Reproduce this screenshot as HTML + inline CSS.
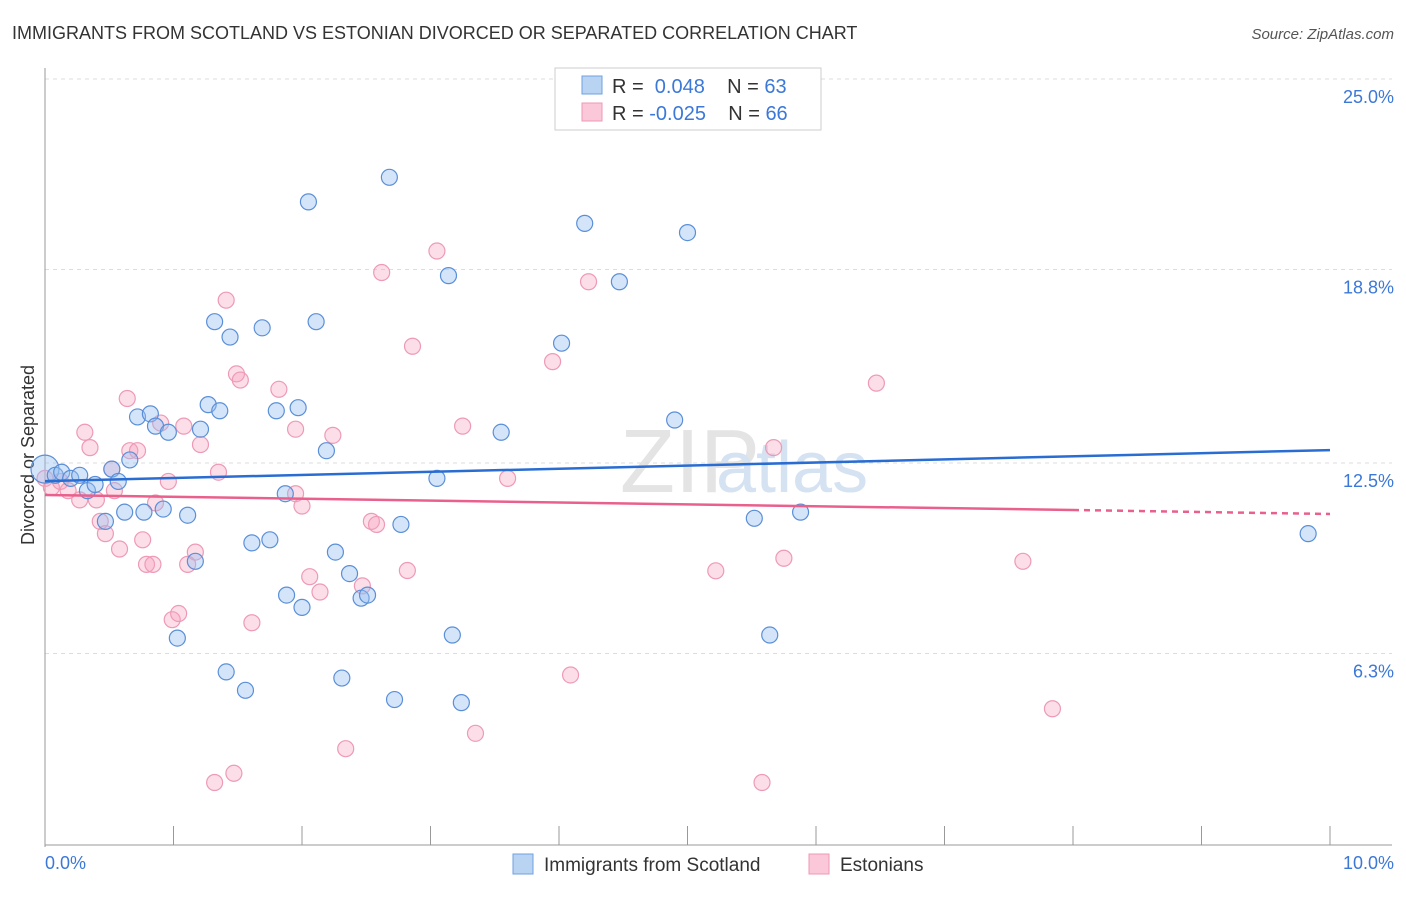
<!DOCTYPE html>
<html><head><meta charset="utf-8"><style>
body{margin:0;background:#fff;font-family:"Liberation Sans",sans-serif}
svg text{font-family:"Liberation Sans",sans-serif}
</style></head><body>
<svg id="c" width="1406" height="892" viewBox="0 0 1406 892">
<text x="12" y="39" font-size="18" fill="#333">IMMIGRANTS FROM SCOTLAND VS ESTONIAN DIVORCED OR SEPARATED CORRELATION CHART</text>
<text x="1394" y="39" font-size="15" fill="#555" text-anchor="end" font-style="italic">Source: ZipAtlas.com</text>
<text x="620" y="492" font-size="90" fill="#e4e4e4" font-family="Liberation Serif">ZIP</text>
<text x="716" y="492" font-size="72" fill="#d5e2f2">atlas</text>
<g id="grid"></g>
<line x1="45" y1="68" x2="45" y2="847" stroke="#999"/>
<line x1="45" y1="845" x2="1392" y2="845" stroke="#999"/>
<text transform="translate(34,455) rotate(-90)" font-size="18" fill="#333" text-anchor="middle">Divorced or Separated</text>
<text x="45" y="869" font-size="18" fill="#3b78d8">0.0%</text>
<text x="1394" y="869" font-size="18" fill="#3b78d8" text-anchor="end">10.0%</text>
<g id="pts"></g>
<g id="lines"></g>
<g>
<rect x="555" y="68" width="266" height="62" fill="#fff" stroke="#ccc"/>
<rect x="582" y="76" width="20" height="18" fill="#b9d3f3" stroke="#6fa0e0"/>
<rect x="582" y="103" width="20" height="18" fill="#fac8d8" stroke="#ee9ab5"/>
<text x="612" y="93" font-size="20" fill="#333">R = <tspan fill="#3b78d8">&#160;0.048</tspan>&#160;&#160;&#160; N = <tspan fill="#3b78d8">63</tspan></text>
<text x="612" y="120" font-size="20" fill="#333">R = <tspan fill="#3b78d8">-0.025</tspan>&#160;&#160;&#160; N = <tspan fill="#3b78d8">66</tspan></text>
</g>
<g>
<rect x="513" y="854" width="20" height="20" fill="#b9d3f3" stroke="#6fa0e0"/>
<text x="544" y="871" font-size="19" fill="#333">Immigrants from Scotland</text>
<rect x="809" y="854" width="20" height="20" fill="#fac8d8" stroke="#ee9ab5"/>
<text x="840" y="871" font-size="19" fill="#333">Estonians</text>
</g>
</svg>
<script>
const yTicks=[6.3,12.5,18.8,25.0];
const yTickLabels=["6.3%","12.5%","18.8%","25.0%"];
const blueX=[0,0.08,0.13,0.2,0.27,0.33,0.39,0.47,0.52,0.57,0.62,0.66,0.72,0.77,0.82,0.86,0.92,0.96,1.03,1.11,1.17,1.21,1.27,1.32,1.36,1.41,1.44,1.56,1.61,1.69,1.75,1.8,1.87,1.88,1.97,2.0,2.05,2.11,2.19,2.26,2.31,2.37,2.46,2.51,2.68,2.72,2.77,3.05,3.14,3.17,3.24,3.55,4.02,4.2,4.47,4.9,5.0,5.52,5.64,5.88,9.83];
const blueY=[12.3,12.1,12.2,12.0,12.1,11.6,11.8,10.6,12.3,11.9,10.9,12.6,14.0,10.9,14.1,13.7,11.0,13.5,6.8,10.8,9.3,13.6,14.4,17.1,14.2,5.7,16.6,5.1,9.9,16.9,10.0,14.2,11.5,8.2,14.3,7.8,21.0,17.1,12.9,9.6,5.5,8.9,8.1,8.2,21.8,4.8,10.5,12.0,18.6,6.9,4.7,13.5,16.4,20.3,18.4,13.9,20.0,10.7,6.9,10.9,10.2];
const pinkX=[0,0.05,0.12,0.18,0.27,0.31,0.35,0.4,0.43,0.47,0.52,0.54,0.58,0.64,0.66,0.72,0.76,0.79,0.84,0.86,0.9,0.96,0.99,1.04,1.08,1.11,1.17,1.21,1.32,1.35,1.41,1.47,1.49,1.52,1.61,1.82,1.95,1.95,2.0,2.06,2.14,2.24,2.34,2.47,2.54,2.58,2.62,2.82,2.86,3.05,3.25,3.35,3.6,3.95,4.09,4.23,5.22,5.58,5.67,5.75,5.94,6.47,7.61,7.84];
const pinkY=[12.0,11.7,11.9,11.6,11.3,13.5,13.0,11.3,10.6,10.2,12.3,11.6,9.7,14.6,12.9,12.9,10.0,9.2,9.2,11.2,13.8,11.9,7.4,7.6,13.7,9.2,9.6,13.1,2.1,12.2,17.8,2.4,15.4,15.2,7.3,14.9,13.6,11.5,11.1,8.8,8.3,13.4,3.2,8.5,10.6,10.5,18.7,9.0,16.3,19.4,13.7,3.7,12.0,15.8,5.6,18.4,8.99,2.1,13.0,9.4,23.7,15.1,9.3,4.5];
const X=v=>45+v*128.5, Y=v=>847-v*30.72;
const NS="http://www.w3.org/2000/svg";
const grid=document.getElementById('grid');
yTicks.forEach((t,i)=>{
 const l=document.createElementNS(NS,'line');
 l.setAttribute('x1',45);l.setAttribute('x2',1392);l.setAttribute('y1',Y(t));l.setAttribute('y2',Y(t));
 l.setAttribute('stroke','#ddd');l.setAttribute('stroke-dasharray','4 4');
 
 
 grid.appendChild(l);
 const tx=document.createElementNS(NS,'text');
 tx.setAttribute('x',1394);tx.setAttribute('y',Y(t)+24);tx.setAttribute('text-anchor','end');
 tx.setAttribute('font-size','18');tx.setAttribute('fill','#3b78d8');tx.textContent=yTickLabels[i];
 
 
 grid.appendChild(tx);
});
for(let i=0;i<=10;i++){
 const l=document.createElementNS(NS,'line');
 l.setAttribute('x1',X(i));l.setAttribute('x2',X(i));l.setAttribute('y1',826);l.setAttribute('y2',845);
 l.setAttribute('stroke','#999');
 
 
 grid.appendChild(l);
}
const pts=document.getElementById('pts');
function dot(x,y,f,s,r,name){
 const c=document.createElementNS(NS,'circle');
 c.setAttribute('cx',X(x));c.setAttribute('cy',Y(y));c.setAttribute('r',r);
 c.setAttribute('fill',f);c.setAttribute('stroke',s);c.setAttribute('stroke-width','1.2');
 
 
 pts.appendChild(c);
}
pinkX.forEach((x,i)=>dot(x,pinkY[i],'rgba(246,160,190,0.35)','#ee9ab5',8,'estonians-point'));
blueX.forEach((x,i)=>dot(x,blueY[i],'rgba(150,190,240,0.4)','#5a8fd8',i==0?14:8,'scotland-point'));
const lines=document.getElementById('lines');
function ln(x1,y1,x2,y2,c,dash,name){
 const l=document.createElementNS(NS,'line');
 l.setAttribute('x1',X(x1));l.setAttribute('y1',Y(y1));l.setAttribute('x2',X(x2));l.setAttribute('y2',Y(y2));
 l.setAttribute('stroke',c);l.setAttribute('stroke-width','2.5');if(dash)l.setAttribute('stroke-dasharray','6 5');
 
 
 lines.appendChild(l);
}
ln(0,11.91,10,12.92,'#2a6dd2',false,'scotland-trend-line');
ln(0,11.46,8,10.97,'#e9608c',false,'estonians-trend-line');
ln(8,10.97,10,10.84,'#e9608c',true,'estonians-trend-extension');
</script>
</body></html>
